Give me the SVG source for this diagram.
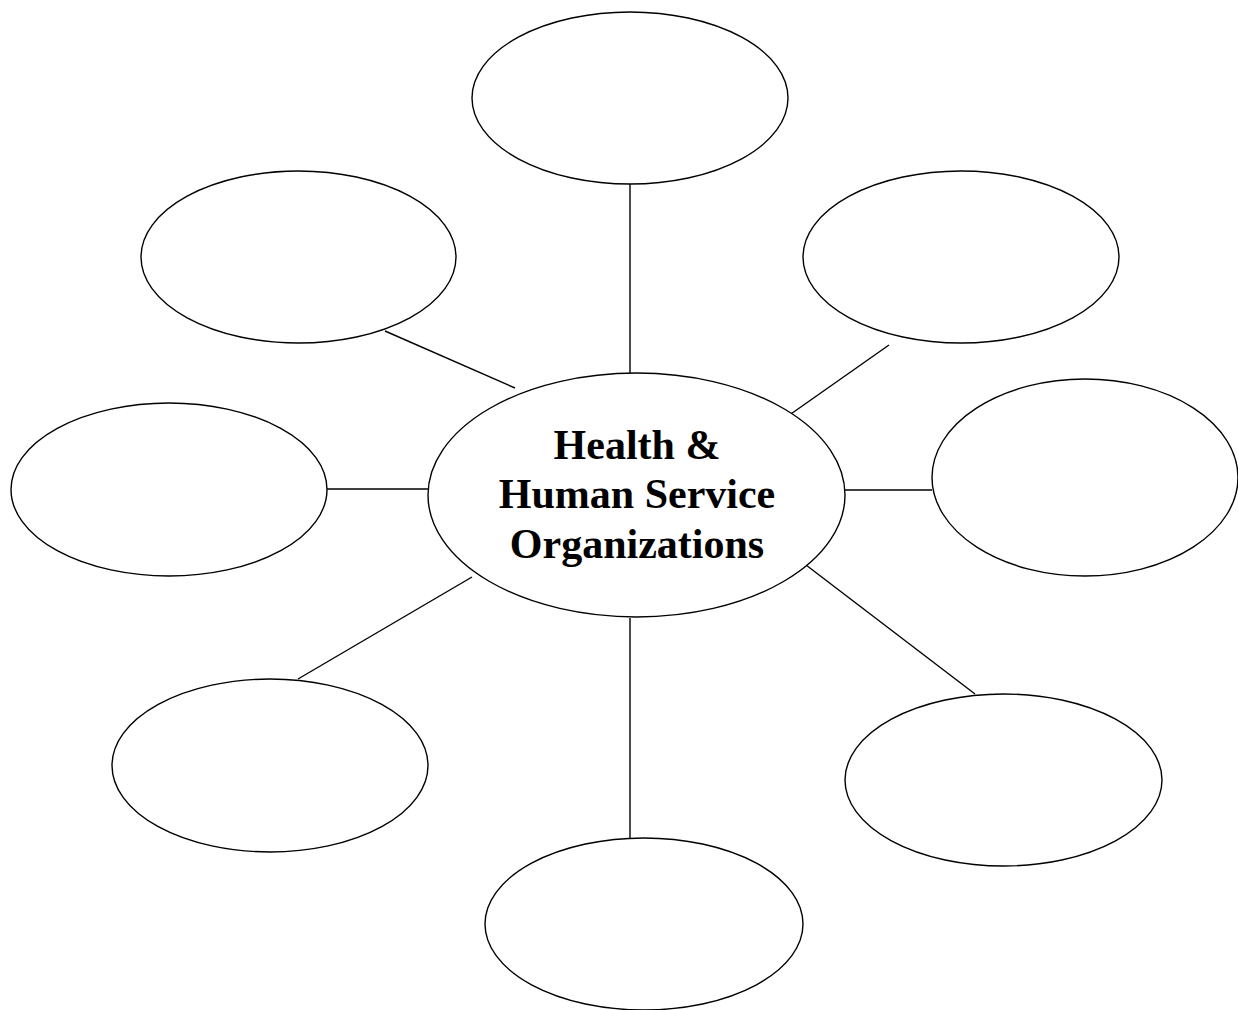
<svg xmlns="http://www.w3.org/2000/svg" width="1238" height="1010" viewBox="0 0 1238 1010">
<style>
.n{fill:#fff;stroke:#000;stroke-width:1.4}
.c line{stroke:#000;stroke-width:1.4}
.t{font-family:"Liberation Serif","Times New Roman",serif;font-weight:bold;font-size:42px;text-anchor:middle;fill:#000}
</style>
<rect width="1238" height="1010" fill="#fff"/>
<g id="connectors" class="c">
<line x1="630" y1="184" x2="630" y2="374"/>
<line x1="385" y1="331" x2="515" y2="388"/>
<line x1="889" y1="345" x2="788" y2="416"/>
<line x1="327" y1="489" x2="428" y2="489"/>
<line x1="845" y1="490" x2="932" y2="490"/>
<line x1="472" y1="577" x2="298" y2="679"/>
<line x1="806" y1="565" x2="975" y2="694"/>
<line x1="630" y1="618" x2="630" y2="838"/>
</g>
<g id="node-center">
<ellipse class="n" cx="636.5" cy="495" rx="208.5" ry="122"/>
<text class="t" x="637" y="459">Health &amp;</text>
<text class="t" x="637" y="508">Human Service</text>
<text class="t" x="637" y="558">Organizations</text>
</g>
<g id="node-top"><ellipse class="n" cx="630" cy="98" rx="158" ry="86"/></g>
<g id="node-top-left"><ellipse class="n" cx="298.5" cy="257" rx="157.5" ry="86"/></g>
<g id="node-top-right"><ellipse class="n" cx="961" cy="257" rx="158" ry="86"/></g>
<g id="node-left"><ellipse class="n" cx="169" cy="489.5" rx="158" ry="86.5"/></g>
<g id="node-right"><ellipse class="n" cx="1085" cy="477.5" rx="153" ry="98.5"/></g>
<g id="node-bottom-left"><ellipse class="n" cx="270" cy="765.5" rx="158" ry="86.5"/></g>
<g id="node-bottom-right"><ellipse class="n" cx="1003.5" cy="780" rx="158.5" ry="86"/></g>
<g id="node-bottom"><ellipse class="n" cx="644" cy="924" rx="159" ry="86"/></g>
</svg>
